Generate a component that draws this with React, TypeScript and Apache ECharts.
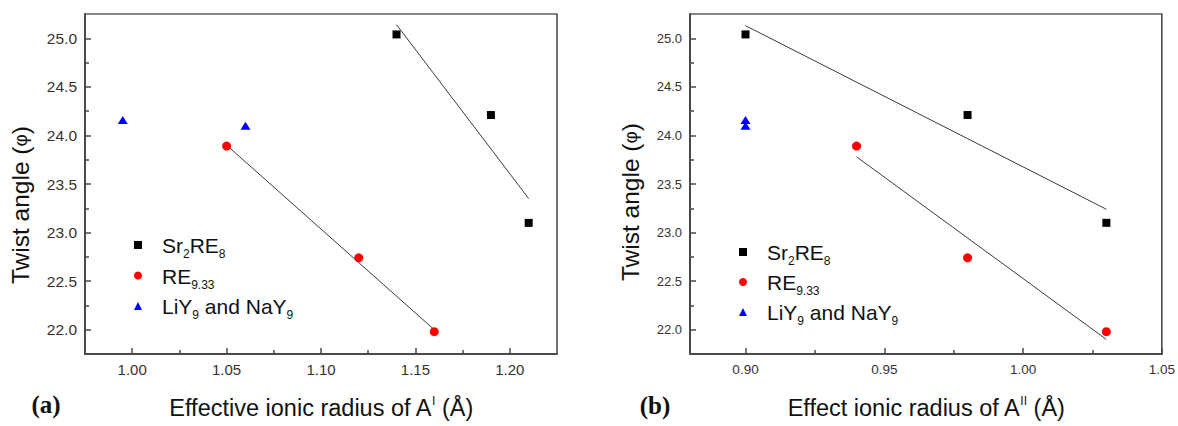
import React, { useEffect, useRef } from 'react';
import * as echarts from 'echarts';

// ---- Data ----
// Panel (a): x = effective ionic radius of A^I (Å), y = twist angle
const sr2re8A = [[1.14, 25.04], [1.19, 24.21], [1.21, 23.10]];
const re933A = [[1.05, 23.89], [1.12, 22.74], [1.16, 21.98]];
const liy9A = [[0.995, 24.16], [1.06, 24.10]];
const fitSrA = [[1.14, 25.14], [1.21, 23.35]];
const fitReA = [[1.05, 23.90], [1.16, 22.00]];

// Panel (b): x = effect ionic radius of A^II (Å)
const sr2re8B = [[0.90, 25.04], [0.98, 24.21], [1.03, 23.10]];
const re933B = [[0.94, 23.89], [0.98, 22.74], [1.03, 21.98]];
const liy9B = [[0.90, 24.16], [0.90, 24.10]];
const fitSrB = [[0.90, 25.13], [1.03, 23.24]];
const fitReB = [[0.94, 23.78], [1.03, 21.90]];

// Ticks
const xMajorA = [1.0, 1.05, 1.1, 1.15, 1.2];
const xMinorA = [1.025, 1.075, 1.125, 1.175];
const xMajorB = [0.9, 0.95, 1.0, 1.05];
const xMinorB = [0.925, 0.975, 1.025];
const yMajor = [22.0, 22.5, 23.0, 23.5, 24.0, 24.5, 25.0];
const yMinor = [22.25, 22.75, 23.25, 23.75, 24.25, 24.75];

const legendNames = ['Sr2RE8', 'RE9.33', 'LiY9 and NaY9'];
const legendLabels: Record<string, string> = {
  'Sr2RE8': '{n|Sr}{s|2}{n|RE}{s|8}',
  'RE9.33': '{n|RE}{s|9.33}',
  'LiY9 and NaY9': '{n|LiY}{s|9}{n| and NaY}{s|9}',
};

const FONT = '"Liberation Sans", Arial, sans-serif';
const AXIS_COLOR = '#4a4a4a';
const LABEL_COLOR = '#333';
const TITLE_COLOR = '#111';

function majorX(gridIndex: number, min: number, max: number, ticks: number[], name: string, fontSize: number) {
  return {
    gridIndex, type: 'value', min, max, position: 'bottom',
    name, nameLocation: 'middle', nameGap: 41,
    nameTextStyle: {
      fontFamily: FONT, fontSize: 23.5, lineHeight: 26, color: TITLE_COLOR,
      rich: { sup: { fontFamily: FONT, fontSize: 12, lineHeight: 12, verticalAlign: 'top', color: TITLE_COLOR } },
    },
    axisLine: { show: true, onZero: false, lineStyle: { color: AXIS_COLOR, width: 2 } },
    axisTick: { show: true, inside: true, length: 6, customValues: ticks, lineStyle: { color: AXIS_COLOR, width: 1.5 } },
    axisLabel: { customValues: ticks, formatter: (v: number) => v.toFixed(2), fontFamily: FONT, fontSize, color: LABEL_COLOR, margin: 8 },
    splitLine: { show: false },
  };
}

function minorX(gridIndex: number, min: number, max: number, ticks: number[]) {
  return {
    gridIndex, type: 'value', min, max, position: 'bottom',
    axisLine: { show: false, onZero: false },
    axisTick: { show: true, inside: true, length: 4, customValues: ticks, lineStyle: { color: AXIS_COLOR, width: 1.5 } },
    axisLabel: { show: false },
    splitLine: { show: false },
  };
}

function majorY(gridIndex: number, fontSize: number, nameGap: number, shift: number) {
  return {
    gridIndex, type: 'value', min: 21.75, max: 25.25, position: 'left',
    name: 'Twist angle ({p|φ})', nameLocation: 'middle', nameRotate: 90, nameGap,
    nameTextStyle: {
      fontFamily: FONT, fontSize: 24.5, lineHeight: 26, color: TITLE_COLOR, padding: [0, shift, 0, 0],
      rich: { p: { fontFamily: FONT, fontSize: 19, color: TITLE_COLOR } },
    },
    axisLine: { show: true, onZero: false, lineStyle: { color: AXIS_COLOR, width: 2 } },
    axisTick: { show: true, inside: true, length: 6, customValues: yMajor, lineStyle: { color: AXIS_COLOR, width: 1.5 } },
    axisLabel: { customValues: yMajor, formatter: (v: number) => v.toFixed(1), fontFamily: FONT, fontSize, color: LABEL_COLOR, margin: 8 },
    splitLine: { show: false },
  };
}

function minorY(gridIndex: number) {
  return {
    gridIndex, type: 'value', min: 21.75, max: 25.25, position: 'left',
    axisLine: { show: false, onZero: false },
    axisTick: { show: true, inside: true, length: 4, customValues: yMinor, lineStyle: { color: AXIS_COLOR, width: 1.5 } },
    axisLabel: { show: false },
    splitLine: { show: false },
  };
}

function scatterSet(xi: number, yi: number, sr: number[][], re: number[][], li: number[][]) {
  return [
    { type: 'scatter', name: 'Sr2RE8', xAxisIndex: xi, yAxisIndex: yi, data: sr, symbol: 'rect', symbolSize: 8, itemStyle: { color: '#000', opacity: 1 }, z: 3 },
    { type: 'scatter', name: 'RE9.33', xAxisIndex: xi, yAxisIndex: yi, data: re, symbol: 'circle', symbolSize: 9, itemStyle: { color: '#ff0000', opacity: 1 }, z: 3 },
    { type: 'scatter', name: 'LiY9 and NaY9', xAxisIndex: xi, yAxisIndex: yi, data: li, symbol: 'triangle', symbolSize: [10, 8], itemStyle: { color: '#0000ff', opacity: 1 }, z: 3 },
  ];
}

function fitLine(xi: number, yi: number, data: number[][]) {
  return {
    type: 'line', xAxisIndex: xi, yAxisIndex: yi, data, symbol: 'none', silent: true,
    lineStyle: { color: '#3a3a3a', width: 1 }, z: 2,
  };
}

function legendAt(left: number, top: number, gap: number) {
  return {
    data: legendNames, orient: 'vertical', left, top, padding: 0,
    itemWidth: 8, itemHeight: 8, itemGap: gap, selectedMode: false,
    formatter: (name: string) => legendLabels[name] || name,
    itemStyle: { opacity: 1 },
    textStyle: {
      fontFamily: FONT, color: TITLE_COLOR, padding: [0, 0, 0, 15],
      rich: {
        n: { fontFamily: FONT, fontSize: 21, lineHeight: 22, padding: [1, 0, 0, 0], verticalAlign: 'top', color: TITLE_COLOR },
        s: { fontFamily: FONT, fontSize: 12, lineHeight: 12, padding: [14, 0, 0, 0], verticalAlign: 'top', color: TITLE_COLOR },
      },
    },
  };
}

export default function App() {
  const ref = useRef<HTMLDivElement>(null);
  useEffect(() => {
    if (!ref.current) return;
    const chart = echarts.init(ref.current, undefined, { renderer: 'svg' });
    const option = {
      animation: false,
      backgroundColor: '#fff',
      grid: [
        { left: 85, top: 14, width: 472, height: 349, show: true, borderColor: '#111', borderWidth: 1.2, containLabel: false },
        { left: 690, top: 14, width: 472, height: 349, show: true, borderColor: '#111', borderWidth: 1.2, containLabel: false },
      ],
      xAxis: [
        majorX(0, 0.975, 1.225, xMajorA, 'Effective ionic radius of A{sup|I} (Å)', 15),
        minorX(0, 0.975, 1.225, xMinorA),
        majorX(1, 0.88, 1.05, xMajorB, 'Effect ionic radius of A{sup|II} (Å)', 13.5),
        minorX(1, 0.88, 1.05, xMinorB),
      ],
      yAxis: [
        majorY(0, 15.5, 52, 42),
        minorY(0),
        majorY(1, 13, 47, 36),
        minorY(1),
      ],
      legend: [legendAt(134, 234, 4.5), legendAt(739, 241, 4)],
      series: [
        ...scatterSet(0, 0, sr2re8A, re933A, liy9A),
        fitLine(0, 0, fitSrA),
        fitLine(0, 0, fitReA),
        ...scatterSet(2, 2, sr2re8B, re933B, liy9B),
        fitLine(2, 2, fitSrB),
        fitLine(2, 2, fitReB),
      ],
      graphic: [
        { type: 'text', x: 46, y: 404, style: { text: '(a)', font: 'bold 25px "Liberation Serif", "Times New Roman", serif', fill: TITLE_COLOR, align: 'center', verticalAlign: 'middle' } },
        { type: 'text', x: 655, y: 405, style: { text: '(b)', font: 'bold 25px "Liberation Serif", "Times New Roman", serif', fill: TITLE_COLOR, align: 'center', verticalAlign: 'middle' } },
      ],
    };
    chart.setOption(option as any);
    return () => chart.dispose();
  }, []);
  return <div ref={ref} style={{ position: 'absolute', left: 0, top: 0, width: 1178, height: 426 }} />;
}
